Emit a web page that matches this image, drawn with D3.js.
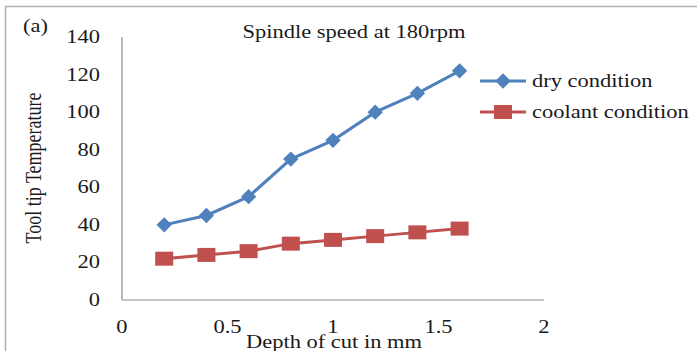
<!DOCTYPE html>
<html>
<head>
<meta charset="utf-8">
<script src="https://cdn.jsdelivr.net/npm/d3@7"></script>
<style>
  body { margin: 0; background: #fff; }
</style>
</head>
<body>
<div id="chart"></div>
<script>
const depth = [0.2, 0.4, 0.6, 0.8, 1.0, 1.2, 1.4, 1.6];
const dry = [40, 45, 55, 75, 85, 100, 110, 122];
const coolant = [22, 24, 26, 30, 32, 34, 36, 38];
const xTicks = [0, 0.5, 1, 1.5, 2];
const yTicks = [0, 20, 40, 60, 80, 100, 120, 140];

const W = 697, H = 351;
const FONT = '"Liberation Serif", "Times New Roman", serif';
const SX = 1.25; // the reference text is stretched sideways

const svg = d3.select('#chart').append('svg')
  .attr('width', W).attr('height', H);

// draws text at (tx, ty), stretched horizontally by SX
function label(tx, ty, str, anchor, rot) {
  const tr = rot
    ? `translate(${tx},${ty}) scale(${SX},1) rotate(${rot})`
    : `translate(${tx},${ty}) scale(${SX},1)`;
  return svg.append('text')
    .attr('transform', tr)
    .attr('text-anchor', anchor || 'start')
    .attr('font-family', FONT)
    .attr('font-size', 18)
    .attr('fill', '#1a1a1a')
    .text(str);
}

// outer frame
svg.append('rect')
  .attr('x', 5.5).attr('y', 6.5)
  .attr('width', W + 10).attr('height', H + 10)
  .attr('fill', 'none').attr('stroke', '#b0b0b0').attr('stroke-width', 1.5);

const x = d3.scaleLinear().domain([0, 2]).range([122, 544]);
const y = d3.scaleLinear().domain([0, 140]).range([300, 37]);

// axes lines
svg.append('line')
  .attr('x1', x(0)).attr('x2', x(0))
  .attr('y1', y(0)).attr('y2', y(140))
  .attr('stroke', '#8c8c8c').attr('stroke-width', 1.2);
svg.append('line')
  .attr('x1', x(0)).attr('x2', x(2))
  .attr('y1', y(0)).attr('y2', y(0))
  .attr('stroke', '#8c8c8c').attr('stroke-width', 1.2);

yTicks.forEach(d => label(100, y(d) + 6, d, 'end'));
xTicks.forEach(d => label(x(d), 333, d, 'middle'));

const line = d3.line()
  .x((d, i) => x(depth[i]))
  .y(d => y(d));

const blue = '#4f81bd', red = '#c0504d';

svg.append('path').datum(dry)
  .attr('fill', 'none').attr('stroke', blue).attr('stroke-width', 3)
  .attr('d', line);
svg.append('path').datum(coolant)
  .attr('fill', 'none').attr('stroke', red).attr('stroke-width', 3)
  .attr('d', line);

const diamond = d3.symbol().type(d3.symbolDiamond2).size(150);
svg.selectAll('.dpt').data(dry).enter().append('path')
  .attr('transform', (d, i) => `translate(${x(depth[i])},${y(d)})`)
  .attr('d', diamond).attr('fill', blue);

svg.selectAll('.cpt').data(coolant).enter().append('rect')
  .attr('x', (d, i) => x(depth[i]) - 9)
  .attr('y', d => y(d) - 7)
  .attr('width', 18).attr('height', 14)
  .attr('fill', red);

// legend
const legend = [
  { name: 'dry condition', color: blue, shape: 'diamond', ly: 81 },
  { name: 'coolant condition', color: red, shape: 'square', ly: 112 }
];
legend.forEach(l => {
  svg.append('line')
    .attr('x1', 480).attr('x2', 526)
    .attr('y1', l.ly).attr('y2', l.ly)
    .attr('stroke', l.color).attr('stroke-width', 3);
  if (l.shape === 'diamond') {
    svg.append('path').attr('transform', `translate(503,${l.ly})`)
      .attr('d', diamond).attr('fill', l.color);
  } else {
    svg.append('rect').attr('x', 494).attr('y', l.ly - 7)
      .attr('width', 18).attr('height', 14).attr('fill', l.color);
  }
  label(532, l.ly + 6, l.name);
});

label(354, 38, 'Spindle speed at 180rpm', 'middle');
label(23, 32, '(a)');
label(41, 168, 'Tool tip Temperature', 'middle', -90);
label(334, 348, 'Depth of cut in mm', 'middle');
</script>
</body>
</html>
